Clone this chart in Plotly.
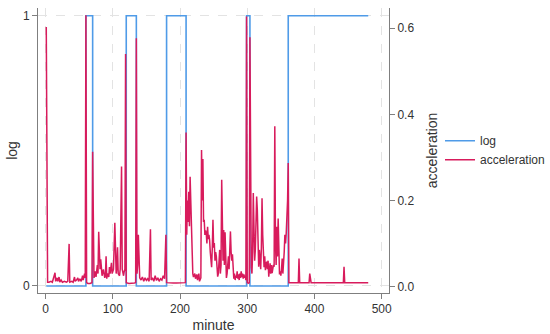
import plotly.graph_objects as go

# log (state) series: step changes at these minutes
log_minutes = [1, 60, 70, 120, 135, 180, 209, 299, 304, 361, 480]
log_values = [0, 1, 0, 1, 0, 1, 0, 1, 0, 1, 1]

# acceleration series (minute, value)
acc_minutes = [
    1, 2, 3, 5, 8, 10, 13, 14, 15, 17, 18, 20, 21, 23, 25, 28, 31, 33, 35, 36,
    39, 41, 43, 44, 46, 48, 49, 51, 53, 55, 56, 58, 59, 60,
    61, 63, 66, 69, 70,
    71, 72, 74, 75, 77, 78, 79, 80, 81, 82, 83, 84, 86, 87, 88, 89, 90, 91, 92,
    94, 95, 96, 98, 99, 101, 103, 104, 105, 106, 107, 108, 110, 111, 113, 114,
    116, 117, 118, 119,
    120, 124, 128, 132, 134,
    135, 136, 137, 138, 139, 140, 142, 144, 146, 148, 150, 152, 154, 156, 157,
    159, 161, 163, 165, 167, 169, 171, 173, 175, 177, 179,
    180, 185, 190, 195, 200, 205, 208, 209,
    210, 211, 212, 213, 214, 215, 216, 217, 218, 219, 220, 222, 223, 225, 226,
    228, 229, 231, 232, 233, 234, 235,
    236, 237, 238, 239, 240, 241, 242, 243, 244, 245, 246, 247, 248, 249, 250,
    251, 252, 253, 254, 255, 256, 257, 258, 259, 260, 261, 262, 263, 264, 265,
    266, 267, 268, 269, 270, 271, 272, 273, 274, 275, 276, 277, 278, 279, 280,
    281, 282, 283, 284, 285, 286, 287, 288, 289, 290, 291, 292, 293, 294, 295,
    296, 297, 298, 299,
    300, 302, 303,
    304, 305, 306, 307, 308, 309, 310, 311, 312, 313, 314, 315, 316, 317, 318,
    319, 320, 321, 322, 323, 324, 325, 326, 327, 328, 329, 330, 331, 332, 333,
    334, 335, 336, 337, 338, 339, 340, 341, 342, 343, 344, 345, 346, 347, 348,
    349, 350, 351, 352, 353, 354, 355, 356, 357, 358, 359, 360, 361,
    362, 370, 376, 377, 378, 385, 392, 393, 394, 395, 410, 425, 443, 444, 445,
    460, 480,
]
acc_values = [
    0.603, 0.25, 0.010, 0.010, 0.012, 0.010, 0.030, 0.032, 0.012, 0.020, 0.012,
    0.022, 0.010, 0.015, 0.010, 0.012, 0.010, 0.012, 0.099, 0.010,
    0.012, 0.010, 0.022, 0.012, 0.015, 0.020, 0.012, 0.018, 0.012, 0.025,
    0.015, 0.030, 0.020, 0.630,
    0.009, 0.007, 0.007, 0.009, 0.313,
    0.030, 0.020, 0.035, 0.022, 0.050, 0.030, 0.127, 0.060, 0.040, 0.063, 0.030,
    0.025, 0.040, 0.030, 0.020, 0.025, 0.070, 0.018, 0.030,
    0.022, 0.045, 0.030, 0.055, 0.030, 0.040, 0.148, 0.050, 0.030, 0.045, 0.091,
    0.030, 0.025, 0.040, 0.279, 0.040,
    0.025, 0.035, 0.040, 0.540,
    0.009, 0.007, 0.007, 0.008, 0.009,
    0.577, 0.030, 0.050, 0.120, 0.040, 0.020, 0.015, 0.022, 0.012, 0.020, 0.014,
    0.018, 0.012, 0.133, 0.015,
    0.020, 0.012, 0.025, 0.014, 0.020, 0.012, 0.018, 0.015, 0.025, 0.018, 0.120,
    0.009, 0.008, 0.008, 0.008, 0.008, 0.008, 0.009, 0.358,
    0.120, 0.200, 0.150, 0.220, 0.140, 0.255, 0.200, 0.120, 0.090, 0.030, 0.022,
    0.030, 0.018, 0.028, 0.015,
    0.030, 0.012, 0.020, 0.317, 0.200, 0.296, 0.150,
    0.155, 0.120, 0.130, 0.124, 0.100, 0.139, 0.110, 0.120, 0.108, 0.080, 0.062,
    0.045, 0.090, 0.155, 0.090,
    0.101, 0.060, 0.080, 0.070, 0.040, 0.023, 0.030, 0.060, 0.085, 0.030, 0.050,
    0.248, 0.150, 0.060, 0.131,
    0.050, 0.126, 0.025, 0.020, 0.030, 0.045, 0.070, 0.040, 0.090, 0.128, 0.080,
    0.060, 0.075, 0.020, 0.018,
    0.030, 0.015, 0.025, 0.020, 0.035, 0.018, 0.028, 0.015, 0.030, 0.020, 0.035,
    0.022, 0.030, 0.018, 0.028,
    0.020, 0.025, 0.015, 0.627,
    0.009, 0.008, 0.009,
    0.579, 0.060, 0.045, 0.030, 0.080, 0.217, 0.150, 0.060, 0.085, 0.201, 0.209,
    0.178, 0.090, 0.046, 0.085,
    0.069, 0.040, 0.090, 0.205, 0.120, 0.062, 0.045, 0.070, 0.038, 0.050, 0.058,
    0.040, 0.060, 0.023, 0.040,
    0.054, 0.030, 0.050, 0.031, 0.045, 0.050, 0.046, 0.372, 0.100, 0.050, 0.139,
    0.070, 0.158, 0.040, 0.028,
    0.035, 0.025, 0.040, 0.065, 0.030, 0.050, 0.080, 0.120, 0.100, 0.124, 0.160,
    0.200, 0.287,
    0.009, 0.009, 0.009, 0.065, 0.009, 0.009, 0.009, 0.030, 0.012, 0.009, 0.009,
    0.009, 0.009, 0.046, 0.009,
    0.009, 0.009,
]

x_ticks = [0, 100, 200, 300, 400, 500]
log_ticks = [0, 1]
acc_ticks = [0.0, 0.2, 0.4, 0.6]
acc_tick_text = ["0.0", "0.2", "0.4", "0.6"]

BLUE = "#4f9be8"
RED = "#d81b5c"
FONT = "Liberation Sans, Arial, sans-serif"
TXT = "#333333"
AX = "#7f7f7f"
GRID = "#e3e3e3"

fig = go.Figure()
fig.add_trace(go.Scatter(
    x=log_minutes, y=log_values, name="log", mode="lines",
    line=dict(color=BLUE, width=1.6, shape="hv"), yaxis="y",
))
fig.add_trace(go.Scatter(
    x=acc_minutes, y=acc_values, name="acceleration", mode="lines",
    line=dict(color=RED, width=1.5), yaxis="y2",
))

fig.update_layout(
    width=550, height=334, autosize=False,
    margin=dict(l=38, r=161, t=8, b=41),
    paper_bgcolor="white", plot_bgcolor="white",
    font=dict(family=FONT, size=12, color=TXT),
    showlegend=True,
    legend=dict(xref="container", yref="container",
                x=0.80, xanchor="left", y=0.55, yanchor="middle",
                bgcolor="rgba(0,0,0,0)", font=dict(size=12, color=TXT)),
    xaxis=dict(
        range=[-11.3, 510.9], tickvals=x_ticks, ticks="outside", ticklen=5,
        tickcolor=AX, showline=True, linecolor=AX, linewidth=1,
        showgrid=True, gridcolor=GRID, griddash="dash", gridwidth=1,
        zeroline=False, title=dict(text="minute", standoff=4),
        automargin=False,
    ),
    yaxis=dict(
        range=[-0.026, 1.0286], tickvals=log_ticks, ticks="outside", ticklen=5,
        tickcolor=AX, showline=True, linecolor=AX, linewidth=1,
        showgrid=True, gridcolor=GRID, griddash="dash", gridwidth=1,
        zeroline=False, title=dict(text="log", standoff=2),
        automargin=False,
    ),
    yaxis2=dict(
        range=[-0.0151, 0.647], tickvals=acc_ticks, ticktext=acc_tick_text,
        overlaying="y", side="right", ticks="outside", ticklen=5,
        tickcolor=AX, showline=True, linecolor=AX, linewidth=1,
        showgrid=False, zeroline=False,
        title=dict(text="acceleration", standoff=20),
        automargin=False,
    ),
)

fig.write_html(
    "out.html",
    config={"responsive": False, "displayModeBar": False},
    post_script="document.body.style.margin='0px';document.body.style.overflow='hidden';",
)
